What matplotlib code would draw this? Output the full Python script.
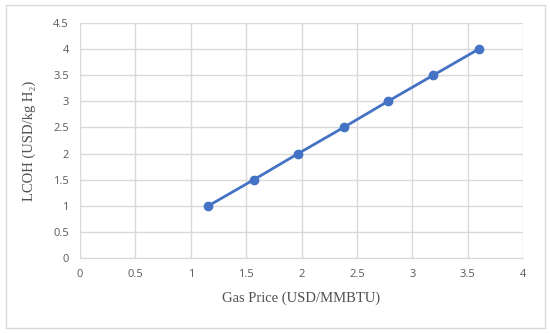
import matplotlib.pyplot as plt
from matplotlib.patches import Rectangle

gas_price = [1.16, 1.57, 1.97, 2.38, 2.78, 3.19, 3.6]
lcoh = [1.0, 1.5, 2.0, 2.5, 3.0, 3.5, 4.0]
x_ticks = [0, 0.5, 1, 1.5, 2, 2.5, 3, 3.5, 4]
y_ticks = [0, 0.5, 1, 1.5, 2, 2.5, 3, 3.5, 4, 4.5]

fig = plt.figure(figsize=(5.5, 3.34), dpi=100)
fig.patches.append(Rectangle((6 / 550, 6 / 334), 539 / 550, 323 / 334,
                             transform=fig.transFigure, fill=False,
                             edgecolor='#d9d9d9', linewidth=1))
ax = fig.add_axes([80 / 550, 76 / 334, 443 / 550, 235 / 334])

ax.plot(gas_price, lcoh, color='#4472c4', linewidth=2, marker='o',
        markersize=6, zorder=3)

ax.set_xlim(0, 4)
ax.set_ylim(0, 4.5)
ax.set_xticks(x_ticks)
ax.set_yticks(y_ticks)
ax.set_xticklabels([f'{t:g}' for t in x_ticks])
ax.set_yticklabels([f'{t:g}' for t in y_ticks])
ax.grid(True, color='#d9d9d9', linewidth=1)
ax.set_axisbelow(True)
for side in ['top', 'right', 'left']:
    ax.spines[side].set_visible(False)
ax.spines['bottom'].set_color('#d9d9d9')
ax.tick_params(length=0, labelsize=8, labelcolor='#595959', pad=8)
for lab in ax.get_xticklabels() + ax.get_yticklabels():
    lab.set_family('Open Sans')

serif = ['Liberation Serif', 'DejaVu Serif']
ax.set_xlabel('Gas Price (USD/MMBTU)', family=serif, fontsize=10.5,
              color='#505050', labelpad=8)
ax.set_ylabel('LCOH (USD/kg H₂)', family=serif, fontsize=10.5,
              color='#505050', labelpad=12)

fig.savefig('out.png', dpi=100)
